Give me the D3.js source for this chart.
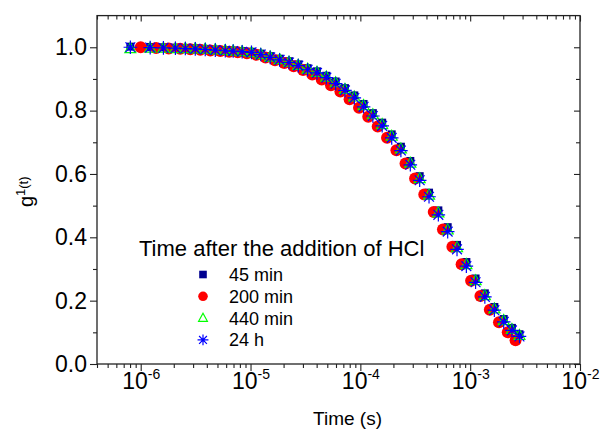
<!DOCTYPE html>
<html>
<head>
<meta charset="utf-8">
<script src="https://cdn.jsdelivr.net/npm/d3@7"></script>
<style>
  body { margin: 0; background: #fff; }
  svg { display: block; font-family: 'Liberation Sans', Arial, sans-serif; }
</style>
</head>
<body>
<svg id="chart" width="603" height="432"></svg>
<script>
// delay times (s) for 45 min, 440 min and 24 h runs
const times = [8.05e-7, 1.22e-6, 1.61e-6, 2.07e-6, 2.55e-6, 3.14e-6, 3.87e-6, 4.78e-6, 5.89e-6, 6.95e-6,
    8.39e-6, 1.02e-5, 1.24e-5, 1.51e-5, 1.84e-5, 2.24e-5, 2.72e-5, 3.31e-5, 4.03e-5, 4.90e-5,
    5.96e-5, 7.24e-5, 8.81e-5, 1.07e-4, 1.30e-4, 1.58e-4, 1.93e-4, 2.34e-4, 2.85e-4, 3.47e-4,
    4.22e-4, 5.13e-4, 6.24e-4, 7.59e-4, 9.23e-4, 1.12e-3, 1.36e-3, 1.66e-3, 2.02e-3, 2.40e-3, 2.81e-3];

// delay times for 200 min run
const times200 = [1.00e-6, 1.38e-6, 1.80e-6, 2.29e-6, 2.83e-6, 3.49e-6, 4.31e-6, 5.31e-6, 6.40e-6, 7.64e-6,
    9.27e-6, 1.13e-5, 1.37e-5, 1.67e-5, 2.03e-5, 2.47e-5, 3.01e-5, 3.65e-5, 4.45e-5, 5.40e-5,
    6.58e-5, 7.98e-5, 9.73e-5, 1.18e-4, 1.44e-4, 1.75e-4, 2.13e-4, 2.58e-4, 3.15e-4, 3.82e-4,
    4.66e-4, 5.65e-4, 6.89e-4, 8.36e-4, 1.02e-3, 1.24e-3, 1.51e-3, 1.83e-3, 2.20e-3, 2.59e-3];

const g45 = [1.002, 1.001, 1.000, 0.999, 0.998, 0.997, 0.995, 0.993, 0.991, 0.990,
    0.988, 0.986, 0.980, 0.972, 0.964, 0.956, 0.946, 0.934, 0.924, 0.910,
    0.892, 0.871, 0.848, 0.821, 0.792, 0.762, 0.725, 0.686, 0.641, 0.593,
    0.541, 0.485, 0.432, 0.376, 0.322, 0.270, 0.223, 0.180, 0.142, 0.114, 0.094];

const g200 = [1.000, 0.998, 0.996, 0.995, 0.994, 0.992, 0.990, 0.988, 0.986, 0.984,
    0.981, 0.976, 0.968, 0.959, 0.950, 0.940, 0.928, 0.914, 0.898, 0.880,
    0.860, 0.836, 0.809, 0.781, 0.750, 0.714, 0.675, 0.633, 0.586, 0.535,
    0.480, 0.425, 0.370, 0.315, 0.263, 0.215, 0.171, 0.132, 0.100, 0.075];

const g440 = [0.996, 0.997, 0.997, 0.996, 0.996, 0.995, 0.994, 0.992, 0.990, 0.988,
    0.986, 0.983, 0.977, 0.969, 0.961, 0.953, 0.943, 0.931, 0.921, 0.906,
    0.888, 0.867, 0.843, 0.816, 0.787, 0.756, 0.719, 0.679, 0.634, 0.585,
    0.533, 0.477, 0.423, 0.367, 0.314, 0.263, 0.216, 0.174, 0.137, 0.109, 0.090];

const g24h = [1.000, 0.999, 0.998, 0.997, 0.996, 0.995, 0.993, 0.991, 0.989, 0.988,
    0.986, 0.984, 0.977, 0.968, 0.960, 0.952, 0.942, 0.929, 0.919, 0.904,
    0.885, 0.864, 0.840, 0.812, 0.783, 0.752, 0.714, 0.674, 0.629, 0.580,
    0.528, 0.471, 0.418, 0.362, 0.309, 0.258, 0.212, 0.170, 0.133, 0.106, 0.087];

const seriesLabels = ['45 min', '200 min', '440 min', '24 h'];
const xMajorExp = [-6, -5, -4, -3, -2];
const yMajor = [0.0, 0.2, 0.4, 0.6, 0.8, 1.0];
const yMinor = [0.1, 0.3, 0.5, 0.7, 0.9];

const svg = d3.select('#chart');
const MARGIN = { top: 15.6, right: 23, bottom: 68, left: 97 };
const W = 603 - MARGIN.left - MARGIN.right;
const H = 432 - MARGIN.top - MARGIN.bottom;
const axisColor = '#222';

const x = d3.scaleLog().domain([4.0e-7, 1e-2]).range([0, W]);
const y = d3.scaleLinear().domain([0, 1.1]).range([H, 0]);

const g = svg.append('g').attr('transform', `translate(${MARGIN.left},${MARGIN.top})`);

const xMinor = [];
for (let e = -7; e <= -3; e++) for (let k = 2; k <= 9; k++) {
    const v = k * Math.pow(10, e);
    if (v >= 4.0e-7 && v <= 1e-2) xMinor.push(v);
}
const xMajor = xMajorExp.map(e => Math.pow(10, e));

function styleAxis(sel) {
    sel.select('.domain').remove();
    sel.selectAll('.tick line').attr('stroke', axisColor).attr('stroke-width', 1.1);
}

// bottom (outward)
g.append('g').attr('transform', `translate(0,${H})`)
    .call(d3.axisBottom(x).tickValues(xMinor).tickSize(4).tickFormat(''))
    .call(styleAxis);
const bx = g.append('g').attr('transform', `translate(0,${H})`)
    .call(d3.axisBottom(x).tickValues(xMajor).tickSize(7).tickFormat(''))
    .call(styleAxis);
bx.selectAll('.tick').append('text')
    .attr('y', 24.5)
    .attr('text-anchor', 'middle')
    .attr('fill', '#000')
    .style('font-size', '23px')
    .each(function (d) {
        const t = d3.select(this);
        t.append('tspan').text('10');
        t.append('tspan').attr('dy', -10).style('font-size', '14px').text(Math.round(Math.log10(d)));
    });

// top (inward)
g.append('g')
    .call(d3.axisBottom(x).tickValues(xMinor).tickSize(4).tickFormat(''))
    .call(styleAxis);
g.append('g')
    .call(d3.axisBottom(x).tickValues(xMajor).tickSize(6).tickFormat(''))
    .call(styleAxis);

// left (outward)
g.append('g')
    .call(d3.axisLeft(y).tickValues(yMinor).tickSize(4).tickFormat(''))
    .call(styleAxis);
const ly = g.append('g')
    .call(d3.axisLeft(y).tickValues(yMajor).tickSize(7).tickPadding(3).tickFormat(d3.format('.1f')))
    .call(styleAxis);
ly.selectAll('.tick text').attr('fill', '#000').style('font-size', '23px');
ly.attr('font-family', null).attr('font-size', null);
bx.attr('font-family', null).attr('font-size', null);

// right (inward)
g.append('g').attr('transform', `translate(${W},0)`)
    .call(d3.axisLeft(y).tickValues(yMinor).tickSize(4).tickFormat(''))
    .call(styleAxis);
g.append('g').attr('transform', `translate(${W},0)`)
    .call(d3.axisLeft(y).tickValues(yMajor).tickSize(6).tickFormat(''))
    .call(styleAxis);

g.append('rect')
    .attr('width', W).attr('height', H)
    .attr('fill', 'none').attr('stroke', axisColor).attr('stroke-width', 1.3);

// markers, k scales the size
const symbols = {
    square: (sel, k) => sel.append('rect').attr('x', -4 * k).attr('y', -4 * k)
        .attr('width', 8 * k).attr('height', 8 * k).attr('fill', '#00008f'),
    circle: (sel, k) => sel.append('circle').attr('r', 6 * k).attr('fill', '#ff0000'),
    triangle: (sel, k) => sel.append('path')
        .attr('d', `M0,${-6 * k} L${5.5 * k},${4 * k} L${-5.5 * k},${4 * k} Z`)
        .attr('fill', 'none').attr('stroke', '#00ff00').attr('stroke-width', 1.2),
    star: (sel, k) => {
        const r = 6.8 * k, d = r * 0.72;
        sel.append('path')
            .attr('d', `M0,${-r}V${r}M${-r},0H${r}M${-d},${-d}L${d},${d}M${-d},${d}L${d},${-d}`)
            .attr('stroke', '#0000ff').attr('stroke-width', 1.2).attr('fill', 'none');
        sel.append('circle').attr('r', 1.6 * k).attr('fill', '#0000ff');
    }
};

const series = [
    { label: seriesLabels[0], t: times, v: g45, sym: 'square' },
    { label: seriesLabels[1], t: times200, v: g200, sym: 'circle' },
    { label: seriesLabels[2], t: times, v: g440, sym: 'triangle' },
    { label: seriesLabels[3], t: times, v: g24h, sym: 'star' }
];

series.forEach(s => {
    const pts = s.t.map((t, i) => ({ t, v: s.v[i] }));
    g.append('g').selectAll('g')
        .data(pts)
        .join('g')
        .attr('transform', d => `translate(${x(d.t)},${y(d.v)})`)
        .each(function () { symbols[s.sym](d3.select(this), 1); });
});

// legend
const leg = svg.append('g');
leg.append('text')
    .attr('x', 139).attr('y', 256)
    .style('font-size', '22px')
    .text('Time after the addition of HCl');
series.forEach((s, i) => {
    const row = leg.append('g').attr('transform', `translate(203,${274.5 + i * 21.8})`);
    symbols[s.sym](row, s.sym === 'square' ? 0.95 : 0.8);
    row.append('text')
        .attr('x', 26).attr('y', 6.5)
        .style('font-size', '18px')
        .text(s.label);
});

// axis titles
svg.append('text')
    .attr('x', 347.5).attr('y', 425)
    .attr('text-anchor', 'middle')
    .style('font-size', '19px')
    .text('Time (s)');

const yl = svg.append('text')
    .attr('transform', `translate(33,${MARGIN.top + H / 2 + 2}) rotate(-90)`)
    .attr('text-anchor', 'middle')
    .style('font-size', '20px');
yl.append('tspan').text('g');
yl.append('tspan').attr('dy', -8).style('font-size', '13px').text('1');
yl.append('tspan').attr('dy', 3).style('font-size', '13px').text('(t)');
</script>
</body>
</html>
